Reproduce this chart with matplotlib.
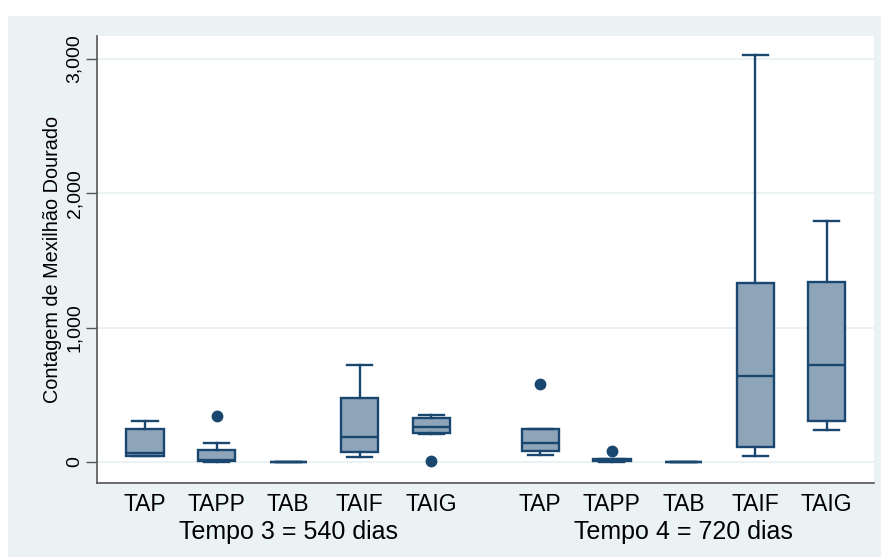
import matplotlib
matplotlib.use("Agg")
import matplotlib.pyplot as plt
from matplotlib.patches import Rectangle

plt.rcParams["font.family"] = ["Liberation Sans", "DejaVu Sans"]

# Treatments shown in each sampling period
treatments = ["TAP", "TAPP", "TAB", "TAIF", "TAIG"]
periods = ["Tempo 3 = 540 dias", "Tempo 4 = 720 dias"]

# Box summaries per period (counts of golden mussel)
t3_whislo = [45, 2, 0, 40, 207]
t3_q1 = [45, 5, 0, 75, 214]
t3_med = [67, 12, 0, 187, 261]
t3_q3 = [246, 92, 2, 480, 328]
t3_whishi = [306, 144, 2, 721, 353]
t3_fliers = [[], [343], [], [], [10]]

t4_whislo = [52, 3, 0, 45, 239]
t4_q1 = [82, 8, 0, 112, 308]
t4_med = [144, 15, 0, 642, 724]
t4_q3 = [243, 22, 2, 1336, 1343]
t4_whishi = [245, 25, 2, 3030, 1793]
t4_fliers = [[584], [82], [], [], []]

yticks = [0, 1000, 2000, 3000]
ytick_labels = ["0", "1,000", "2,000", "3,000"]

navy = "#1a476f"
fill = "#8ea4b8"
bg = "#eaf2f3"

fig = plt.figure(figsize=(8.81, 5.57), dpi=100)
fig.patch.set_facecolor("white")
fig.patches.append(Rectangle((8 / 881, 0), 1 - 8 / 881, 1 - 16 / 557,
                             transform=fig.transFigure, facecolor=bg,
                             edgecolor="none", zorder=-10))

ax = fig.add_axes([97 / 881, (557 - 483) / 557, (874 - 97) / 881, (483 - 36) / 557])
ax.set_facecolor("white")


def build(whislo, q1, med, q3, whishi, fliers):
    return [dict(whislo=a, q1=b, med=c, q3=d, whishi=e, fliers=f)
            for a, b, c, d, e, f in zip(whislo, q1, med, q3, whishi, fliers)]


stats = (build(t3_whislo, t3_q1, t3_med, t3_q3, t3_whishi, t3_fliers)
         + build(t4_whislo, t4_q1, t4_med, t4_q3, t4_whishi, t4_fliers))
positions = [1, 2, 3, 4, 5, 6.52, 7.52, 8.52, 9.52, 10.52]

lw = 1.7
ax.bxp(stats, positions=positions, widths=0.52, patch_artist=True,
       showfliers=True,
       boxprops=dict(facecolor=fill, edgecolor=navy, linewidth=lw),
       medianprops=dict(color=navy, linewidth=lw),
       whiskerprops=dict(color=navy, linewidth=lw),
       capprops=dict(color=navy, linewidth=lw),
       flierprops=dict(marker="o", markerfacecolor=navy, markeredgecolor=navy,
                       markersize=7.5),
       capwidths=0.35)

ax.set_xlim(0.33, 11.18)
ax.set_ylim(-156, 3171)

ax.set_yticks(yticks)
ax.set_yticklabels(ytick_labels, rotation=90, va="center", fontsize=14)
ax.yaxis.grid(True, color=bg, linewidth=1.5)
ax.set_axisbelow(True)
ax.tick_params(axis="y", length=8, width=1, color="#555555", pad=2)

ax.set_xticks(positions)
ax.set_xticklabels(treatments * 2, fontsize=16.5)
ax.tick_params(axis="x", length=0, pad=7)

for s in ("top", "right"):
    ax.spines[s].set_visible(False)
for s in ("left", "bottom"):
    ax.spines[s].set_color("#555555")
    ax.spines[s].set_linewidth(1.2)

ax.set_ylabel("Contagem de Mexilhão Dourado", fontsize=14.3, labelpad=3)

for label, center in zip(periods, [3, 8.52]):
    ax.text(center, -0.11, label, transform=ax.get_xaxis_transform(),
            ha="center", va="center", fontsize=18)

fig.savefig("out.png", dpi=100, facecolor=fig.get_facecolor())
